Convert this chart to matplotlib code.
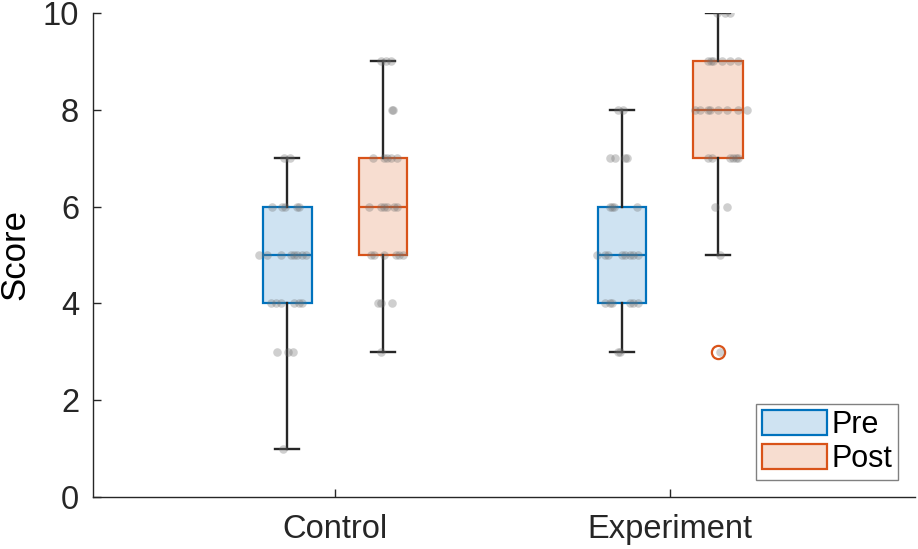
import matplotlib.pyplot as plt
from matplotlib.patches import Patch

plt.rcParams['font.family'] = ['Liberation Sans', 'DejaVu Sans']

groups = ['Control', 'Experiment']
series = ['Pre', 'Post']
edge_colors = ['#0072BD', '#D95319']
face_colors = ['#CFE3F2', '#F7DDD0']

# scores per box, with the horizontal jitter (in pixels) seen in the picture
ctrl_pre = [7, 7, 6, 6, 6, 6, 6, 5, 5, 5, 5, 5, 5, 5, 5, 4, 4, 4, 4, 4, 4, 3, 3, 3, 1]
ctrl_pre_jit = [-3, 3, -15, -5, -2, 10, 12, -28, -20, -6, 4, 7, 10, 15, 19, -16, -11, -6, 7, 12, 15, -10, 1, 6, -4]

ctrl_post = [9, 9, 9, 8, 8, 7, 7, 7, 7, 7, 6, 6, 6, 6, 6, 6, 5, 5, 5, 5, 5, 5, 4, 4, 4, 3]
ctrl_post_jit = [-2, 3, 8, 9, 10, -10, 1, 4, 8, 14, -14, -2, 1, 4, 11, 14, -12, -9, 1, 13, 16, 20, -5, -2, 9, -2]

exp_pre = [8, 8, 7, 7, 7, 7, 6, 6, 6, 6, 5, 5, 5, 5, 5, 5, 5, 5, 4, 4, 4, 4, 4, 4, 3, 3]
exp_pre_jit = [-4, 1, -12, -7, 3, 5, -12, -10, -8, 15, -25, -17, -14, 0, 3, 8, 11, 16, -17, -12, -10, 8, 11, 16, -4, -2]

exp_post = [10, 10, 10, 9, 9, 9, 9, 9, 9, 8, 8, 8, 8, 8, 8, 8, 8, 7, 7, 7, 7, 7, 7, 6, 6, 5, 3]
exp_post_jit = [-1, 7, 12, -10, -7, -5, 4, 12, 20, -23, -18, -10, -8, 0, 9, 20, 29, -10, -6, 12, 15, 20, 18, -3, 9, 2, 2]

data = [ctrl_pre, ctrl_post, exp_pre, exp_post]
jitter = [ctrl_pre_jit, ctrl_post_jit, exp_pre_jit, exp_post_jit]

px = 1 / 335.0          # one pixel in x data units
offset = 48 * px
positions = [1 - offset, 1 + offset, 2 - offset, 2 + offset]
colors = [0, 1, 0, 1]

fig = plt.figure(figsize=(9.18, 5.49), dpi=100)
ax = fig.add_axes([93 / 918, 52 / 549, 822 / 918, 484 / 549])

for i in range(4):
    c = colors[i]
    bp = ax.boxplot(data[i], positions=[positions[i]], widths=49 * px, patch_artist=True,
                    capwidths=24 * px, manage_ticks=False,
                    boxprops=dict(facecolor=face_colors[c], edgecolor=edge_colors[c], linewidth=1.6),
                    medianprops=dict(color=edge_colors[c], linewidth=1.6),
                    whiskerprops=dict(color='#262626', linewidth=1.7),
                    capprops=dict(color='#262626', linewidth=1.7),
                    flierprops=dict(marker='o', markersize=9.5, markerfacecolor='white',
                                    markeredgecolor=edge_colors[c], markeredgewidth=1.6))
    xs = [positions[i] + j * px for j in jitter[i]]
    ax.scatter(xs, data[i], s=38, color='#707070', alpha=0.33, linewidths=0, zorder=4)

ax.set_xlim(1 - 242 * px, 2 + 245 * px)
ax.set_ylim(0, 10)
ax.set_yticks([0, 2, 4, 6, 8, 10])
ax.set_xticks([1, 2])
ax.set_xticklabels(groups)
ax.set_ylabel('Score', fontsize=25, labelpad=8)
ax.tick_params(axis='both', direction='in', labelsize=23.5, length=6, width=1, colors='#262626')
ax.tick_params(axis='x', pad=12)
ax.tick_params(axis='y', pad=10)
for s in ['top', 'right']:
    ax.spines[s].set_visible(False)
for s in ['left', 'bottom']:
    ax.spines[s].set_color('#262626')
    ax.spines[s].set_linewidth(1)

handles = [Patch(facecolor=face_colors[k], edgecolor=edge_colors[k], linewidth=1.6, label=series[k])
           for k in range(2)]
leg = ax.legend(handles=handles, loc='lower right', fontsize=22, fancybox=False,
                edgecolor='#808080', handlelength=2.1, handleheight=0.9, handletextpad=0.15,
                borderaxespad=0.55, borderpad=0.2, labelspacing=0.12, framealpha=1)
leg.get_frame().set_linewidth(1)

fig.savefig('out.png', dpi=100)
